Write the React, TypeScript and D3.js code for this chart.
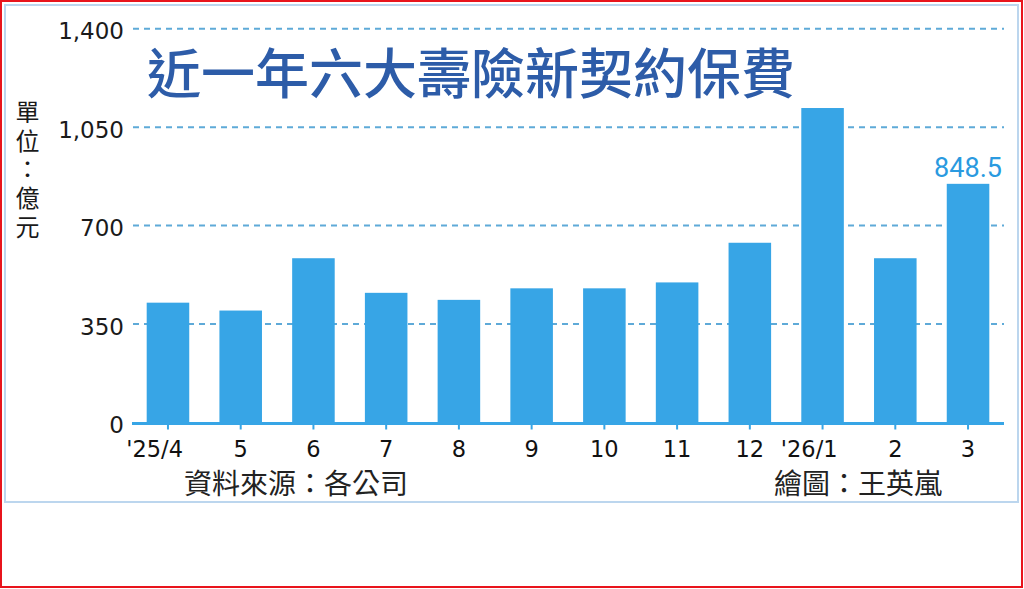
import React, { useEffect, useRef } from 'react';
import * as d3 from 'd3';

// 近一年六大壽險新契約保費 (單位：億元)
const months = ["'25/4", '5', '6', '7', '8', '9', '10', '11', '12', "'26/1", '2', '3'];
const premiums = [426, 398, 584, 461, 436, 477, 477, 498, 639, 1118, 584, 848.5];
const yTicks = [0, 350, 700, 1050, 1400];

const TITLE = '近一年六大壽險新契約保費';
const UNIT = '單位：億元';
const SOURCE = '資料來源：各公司';
const CREDIT = '繪圖：王英嵐';

const W = 1024;
const H = 589;

const App: React.FC = () => {
  const svgRef = useRef<SVGSVGElement>(null);

  useEffect(() => {
    document.body.style.margin = '0';
    if (!svgRef.current) return;

    const svg = d3.select(svgRef.current);
    svg.selectAll('*').remove();

    const barColor = '#37a5e6';
    const gridColor = '#5eaad8';
    const cjk = '"Noto Sans CJK TC", "Noto Sans CJK SC", sans-serif';
    const num = '"DejaVu Sans", sans-serif';

    // frames
    svg.append('rect').attr('width', W).attr('height', H).attr('fill', '#fff');
    svg.append('rect')
      .attr('x', 5).attr('y', 5).attr('width', 1013).attr('height', 497)
      .attr('fill', 'none').attr('stroke', '#bcd6ee').attr('stroke-width', 2);
    svg.append('rect')
      .attr('x', 1).attr('y', 1).attr('width', W - 3).attr('height', H - 3)
      .attr('fill', 'none').attr('stroke', '#e8141c').attr('stroke-width', 2);

    const x = d3.scaleBand<string>()
      .domain(months)
      .range([131.6, 1004.4])
      .paddingInner(0.415)
      .paddingOuter(0.2075);

    const y = d3.scaleLinear().domain([0, 1400]).range([422.5, 28.7]);

    // gridlines
    svg.append('g')
      .selectAll('line')
      .data(yTicks.filter(t => t > 0))
      .join('line')
      .attr('x1', 133)
      .attr('x2', 1004)
      .attr('y1', d => y(d))
      .attr('y2', d => y(d))
      .attr('stroke', gridColor)
      .attr('stroke-width', 2)
      .attr('stroke-dasharray', '6,5');

    // y tick labels
    svg.append('g')
      .selectAll('text')
      .data(yTicks)
      .join('text')
      .attr('x', 124)
      .attr('y', d => y(d) + 10.5)
      .attr('text-anchor', 'end')
      .attr('font-family', num)
      .attr('font-size', 23)
      .attr('fill', '#1a1a1a')
      .text(d => d3.format(',')(d));

    // bars
    svg.append('g')
      .selectAll('rect')
      .data(premiums)
      .join('rect')
      .attr('x', (_, i) => x(months[i])!)
      .attr('width', x.bandwidth())
      .attr('y', d => y(d))
      .attr('height', d => y(0) - y(d))
      .attr('fill', barColor);

    // x axis line + ticks
    svg.append('line')
      .attr('x1', 132).attr('x2', 1004)
      .attr('y1', y(0) + 1).attr('y2', y(0) + 1)
      .attr('stroke', barColor).attr('stroke-width', 3);

    svg.append('g')
      .selectAll('line')
      .data(months)
      .join('line')
      .attr('x1', d => x(d)! + x.bandwidth() / 2)
      .attr('x2', d => x(d)! + x.bandwidth() / 2)
      .attr('y1', y(0) + 2)
      .attr('y2', y(0) + 7)
      .attr('stroke', barColor)
      .attr('stroke-width', 2);

    // x labels (year labels lean left of the tick)
    svg.append('g')
      .selectAll('text')
      .data(months)
      .join('text')
      .attr('x', d => x(d)! + x.bandwidth() / 2 + (d.startsWith("'") ? 15 : 0))
      .attr('y', 456.5)
      .attr('text-anchor', d => (d.startsWith("'") ? 'end' : 'middle'))
      .attr('font-family', num)
      .attr('font-size', 22.5)
      .attr('fill', '#111')
      .text(d => d);

    // value label on last bar
    const last = months.length - 1;
    svg.append('text')
      .attr('x', x(months[last])! + x.bandwidth() / 2)
      .attr('y', y(premiums[last]) - 7)
      .attr('text-anchor', 'middle')
      .attr('font-family', 'Roboto, sans-serif')
      .attr('font-size', 27)
      .attr('fill', '#2a9ae0')
      .text(premiums[last]);

    // title
    svg.append('text')
      .attr('x', 147)
      .attr('y', 94)
      .attr('font-family', cjk)
      .attr('font-size', 54)
      .attr('font-weight', 500)
      .attr('fill', '#2d5ca8')
      .text(TITLE);

    // unit, written vertically
    svg.append('text')
      .attr('x', 27.5)
      .attr('y', 100)
      .attr('writing-mode', 'vertical-rl')
      .attr('font-family', cjk)
      .attr('font-size', 24)
      .attr('letter-spacing', 4.6)
      .attr('fill', '#1a1a1a')
      .text(UNIT);

    // footer
    svg.append('text')
      .attr('x', 184).attr('y', 494)
      .attr('font-family', cjk).attr('font-size', 28).attr('fill', '#222')
      .text(SOURCE);
    svg.append('text')
      .attr('x', 774).attr('y', 494)
      .attr('font-family', cjk).attr('font-size', 28).attr('fill', '#222')
      .text(CREDIT);
  }, []);

  return <svg ref={svgRef} width={W} height={H} style={{ display: 'block' }} />;
};

export default App;
